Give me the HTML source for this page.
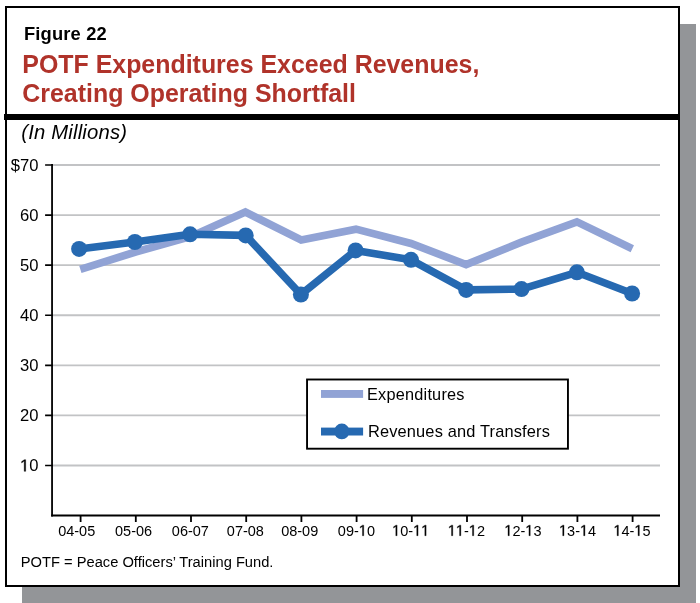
<!DOCTYPE html>
<html>
<head>
<meta charset="utf-8">
<title>Figure 22</title>
<style>
html,body{margin:0;padding:0;background:#fff;}
body{width:700px;height:603px;overflow:hidden;font-family:"Liberation Sans",sans-serif;}
svg{display:block;will-change:transform;}
text{font-family:"Liberation Sans",sans-serif;}
</style>
</head>
<body>
<svg width="700" height="603" viewBox="0 0 700 603">
  <rect x="0" y="0" width="700" height="603" fill="#ffffff"/>
  <rect x="22" y="24" width="674" height="579" fill="#939598"/>
  <rect x="6" y="7" width="673" height="579" fill="#ffffff" stroke="#000000" stroke-width="2"/>
  <rect x="4" y="114" width="676" height="6" fill="#000000"/>
  <text transform="translate(24.0 39.6) scale(1.0 1.04)" font-size="18.35" fill="#000000" font-weight="bold" letter-spacing="0.15">Figure 22</text>
  <text transform="translate(22.3 72.6) scale(1.0 1.04)" font-size="24.93" fill="#b0332a" font-weight="bold">POTF Expenditures Exceed Revenues,</text>
  <text transform="translate(22.3 102.1) scale(1.0 1.04)" font-size="24.93" fill="#b0332a" font-weight="bold">Creating Operating Shortfall</text>
  <text transform="translate(21.3 138.6) scale(1.0 1.04)" font-size="20.3" fill="#000000" font-style="italic" letter-spacing="0.17">(In Millions)</text>
  <g stroke="#c2c3c5" stroke-width="1.8">
    <line x1="53" y1="165.00" x2="660" y2="165.00"/>
    <line x1="53" y1="215.08" x2="660" y2="215.08"/>
    <line x1="53" y1="265.16" x2="660" y2="265.16"/>
    <line x1="53" y1="315.24" x2="660" y2="315.24"/>
    <line x1="53" y1="365.32" x2="660" y2="365.32"/>
    <line x1="53" y1="415.40" x2="660" y2="415.40"/>
    <line x1="53" y1="465.48" x2="660" y2="465.48"/>
  </g>
  <g stroke="#000000" fill="none">
    <path stroke-width="1.8" d="M52.05 164.05 V516.5"/>
    <path stroke-width="2" d="M51.15 515.5 H660"/>
    <path stroke-width="1.7" d="M45.1 165.00 H52.9 M45.1 215.08 H52.9 M45.1 265.16 H52.9 M45.1 315.24 H52.9 M45.1 365.32 H52.9 M45.1 415.40 H52.9 M45.1 465.48 H52.9"/>
    <path stroke-width="1.8" d="M80.6 515.2 V522 M135.8 515.2 V522 M191.0 515.2 V522 M246.2 515.2 V522 M301.4 515.2 V522 M356.6 515.2 V522 M411.8 515.2 V522 M467.0 515.2 V522 M522.2 515.2 V522 M577.4 515.2 V522 M632.6 515.2 V522"/>
  </g>
  <text transform="translate(10.80 170.85) scale(1 1.02)" font-size="16.6" fill="#000000">$70</text>
  <text transform="translate(20.04 220.93) scale(1 1.02)" font-size="16.6" fill="#000000">60</text>
  <text transform="translate(20.04 271.01) scale(1 1.02)" font-size="16.6" fill="#000000">50</text>
  <text transform="translate(20.04 321.09) scale(1 1.02)" font-size="16.6" fill="#000000">40</text>
  <text transform="translate(20.04 371.17) scale(1 1.02)" font-size="16.6" fill="#000000">30</text>
  <text transform="translate(20.04 421.25) scale(1 1.02)" font-size="16.6" fill="#000000">20</text>
  <path transform="translate(20.04 471.33) scale(0.008105 -0.008268)" d="M515 0V1237L197 1010V1180L530 1409H696V0Z" fill="#000000" stroke="#000000" stroke-width="45"/>
  <text transform="translate(29.27 471.33) scale(1 1.02)" font-size="16.6" fill="#000000">0</text>
  <text transform="translate(58.16 535.7) scale(1 1.06)" font-size="14.5" fill="#000000">04-05</text>
  <text transform="translate(115.06 535.7) scale(1 1.06)" font-size="14.5" fill="#000000">05-06</text>
  <text transform="translate(171.86 535.7) scale(1 1.06)" font-size="14.5" fill="#000000">06-07</text>
  <text transform="translate(226.86 535.7) scale(1 1.06)" font-size="14.5" fill="#000000">07-08</text>
  <text transform="translate(281.16 535.7) scale(1 1.06)" font-size="14.5" fill="#000000">08-09</text>
  <text transform="translate(337.86 535.7) scale(1 1.06)" font-size="14.5" fill="#000000">09-</text>
  <path transform="translate(358.81 535.7) scale(0.007080 -0.007505)" d="M515 0V1237L197 1010V1180L530 1409H696V0Z" fill="#000000" stroke="#000000" stroke-width="45"/>
  <text transform="translate(366.88 535.7) scale(1 1.06)" font-size="14.5" fill="#000000">0</text>
  <path transform="translate(392.16 535.7) scale(0.007080 -0.007505)" d="M515 0V1237L197 1010V1180L530 1409H696V0Z" fill="#000000" stroke="#000000" stroke-width="45"/>
  <text transform="translate(400.22 535.7) scale(1 1.06)" font-size="14.5" fill="#000000">0-</text>
  <path transform="translate(413.11 535.7) scale(0.007080 -0.007505)" d="M515 0V1237L197 1010V1180L530 1409H696V0Z" fill="#000000" stroke="#000000" stroke-width="45"/>
  <path transform="translate(421.18 535.7) scale(0.007080 -0.007505)" d="M515 0V1237L197 1010V1180L530 1409H696V0Z" fill="#000000" stroke="#000000" stroke-width="45"/>
  <path transform="translate(447.86 535.7) scale(0.007080 -0.007505)" d="M515 0V1237L197 1010V1180L530 1409H696V0Z" fill="#000000" stroke="#000000" stroke-width="45"/>
  <path transform="translate(455.92 535.7) scale(0.007080 -0.007505)" d="M515 0V1237L197 1010V1180L530 1409H696V0Z" fill="#000000" stroke="#000000" stroke-width="45"/>
  <text transform="translate(463.99 535.7) scale(1 1.06)" font-size="14.5" fill="#000000">-</text>
  <path transform="translate(468.81 535.7) scale(0.007080 -0.007505)" d="M515 0V1237L197 1010V1180L530 1409H696V0Z" fill="#000000" stroke="#000000" stroke-width="45"/>
  <text transform="translate(476.88 535.7) scale(1 1.06)" font-size="14.5" fill="#000000">2</text>
  <path transform="translate(504.36 535.7) scale(0.007080 -0.007505)" d="M515 0V1237L197 1010V1180L530 1409H696V0Z" fill="#000000" stroke="#000000" stroke-width="45"/>
  <text transform="translate(512.42 535.7) scale(1 1.06)" font-size="14.5" fill="#000000">2-</text>
  <path transform="translate(525.31 535.7) scale(0.007080 -0.007505)" d="M515 0V1237L197 1010V1180L530 1409H696V0Z" fill="#000000" stroke="#000000" stroke-width="45"/>
  <text transform="translate(533.38 535.7) scale(1 1.06)" font-size="14.5" fill="#000000">3</text>
  <path transform="translate(559.06 535.7) scale(0.007080 -0.007505)" d="M515 0V1237L197 1010V1180L530 1409H696V0Z" fill="#000000" stroke="#000000" stroke-width="45"/>
  <text transform="translate(567.12 535.7) scale(1 1.06)" font-size="14.5" fill="#000000">3-</text>
  <path transform="translate(580.01 535.7) scale(0.007080 -0.007505)" d="M515 0V1237L197 1010V1180L530 1409H696V0Z" fill="#000000" stroke="#000000" stroke-width="45"/>
  <text transform="translate(588.08 535.7) scale(1 1.06)" font-size="14.5" fill="#000000">4</text>
  <path transform="translate(613.46 535.7) scale(0.007080 -0.007505)" d="M515 0V1237L197 1010V1180L530 1409H696V0Z" fill="#000000" stroke="#000000" stroke-width="45"/>
  <text transform="translate(621.52 535.7) scale(1 1.06)" font-size="14.5" fill="#000000">4-</text>
  <path transform="translate(634.41 535.7) scale(0.007080 -0.007505)" d="M515 0V1237L197 1010V1180L530 1409H696V0Z" fill="#000000" stroke="#000000" stroke-width="45"/>
  <text transform="translate(642.48 535.7) scale(1 1.06)" font-size="14.5" fill="#000000">5</text>
  <polyline fill="none" stroke="#91a3d5" stroke-width="7.7" stroke-linejoin="miter" stroke-linecap="butt" points="80.35,269.4 135.5,252 190.3,236.7 245.4,212.1 301.2,240 356,229.1 411,243.4 466.1,264.6 521.5,242.2 576.9,221.9 632.3,248.8"/>
  <polyline fill="none" stroke="#2669b1" stroke-width="7.6" stroke-linejoin="round" stroke-linecap="butt" points="79.1,248.9 134.9,242 190.1,234.3 245.7,235.4 300.9,294.5 355.6,250.4 411,259.8 466.2,289.9 521.5,289.1 576.9,272.3 632.1,293.5"/>
  <g fill="#2669b1">
    <circle cx="79.1" cy="248.9" r="8"/>
    <circle cx="134.9" cy="242" r="8"/>
    <circle cx="190.1" cy="234.3" r="8"/>
    <circle cx="245.7" cy="235.4" r="8"/>
    <circle cx="300.9" cy="294.5" r="8"/>
    <circle cx="355.6" cy="250.4" r="8"/>
    <circle cx="411" cy="259.8" r="8"/>
    <circle cx="466.2" cy="289.9" r="8"/>
    <circle cx="521.5" cy="289.1" r="8"/>
    <circle cx="576.9" cy="272.3" r="8"/>
    <circle cx="632.1" cy="293.5" r="8"/>
  </g>
  <rect x="307.05" y="379.5" width="260.9" height="69.2" fill="#ffffff" stroke="#000000" stroke-width="1.9"/>
  <rect x="321" y="390" width="42.1" height="7.9" fill="#91a3d5"/>
  <rect x="321" y="427.6" width="42.1" height="7.9" fill="#2669b1"/>
  <circle cx="341.8" cy="431.4" r="7.8" fill="#2669b1"/>
  <text transform="translate(367.0 399.5) scale(1.0 1.0)" font-size="16.3" fill="#000000" letter-spacing="0.22">Expenditures</text>
  <text transform="translate(367.9 436.5) scale(1.0 1.0)" font-size="16.4" fill="#000000" letter-spacing="0.16">Revenues and Transfers</text>
  <text transform="translate(20.8 567.0) scale(1.0 1.04)" font-size="14.7" fill="#000000">POTF = Peace Officers’ Training Fund.</text>
</svg>
</body>
</html>
